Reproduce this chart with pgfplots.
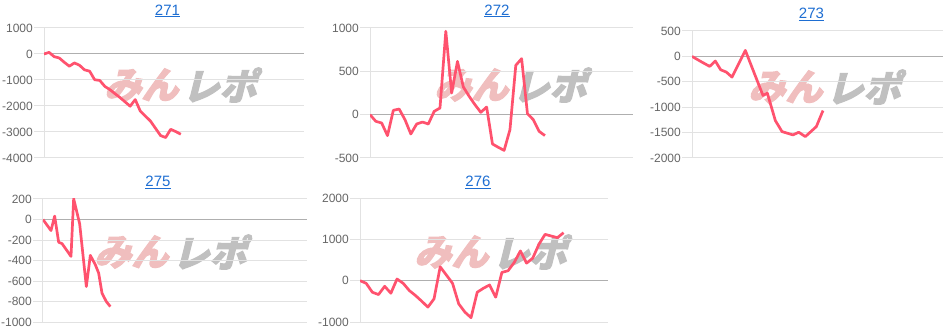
\documentclass[border=0pt]{standalone}
\usepackage{fontspec}
\setmainfont{Liberation Sans}
\newfontfamily\cjk{Noto Sans CJK JP}[FakeBold=3]
\usepackage{pgfplots}
\pgfplotsset{compat=1.18}
\definecolor{linec}{RGB}{255,82,110}
\definecolor{titlec}{RGB}{30,110,210}
\definecolor{tickc}{RGB}{102,102,102}
\definecolor{gridc}{RGB}{226,226,226}
\definecolor{zeroc}{RGB}{175,175,175}
\definecolor{wmpink}{RGB}{240,190,190}
\definecolor{wmgray}{RGB}{192,192,192}
\pgfplotsset{panel/.style={
  scale only axis,
  axis lines*=left,
  x axis line style={draw=none},
  xtick=\empty,
  y axis line style={gridc, line width=1pt},
  ytick style={gridc, line width=1pt},
  major tick length=10pt,
  tick align=outside,
  ymajorgrids,
  grid style={gridc, line width=1pt},
  scaled y ticks=false,
  yticklabel style={font=\fontsize{12}{12}\selectfont, text=tickc, inner sep=1pt},
  xmin=0,
}}
\tikzset{dl/.style={linec, line width=2.7pt, line join=round, mark=none},
  wm/.style={font=\cjk\fontsize{37}{37}\selectfont\bfseries, inner sep=0pt, xslant=0.25},
  ttl/.style={font=\fontsize{15}{15}\selectfont, text=titlec}}
\newcommand{\zeroline}{\draw[zeroc, line width=1pt] ({rel axis cs:0,0}|-{axis cs:0,0}) -- ({rel axis cs:1,0}|-{axis cs:0,0});}
\newcommand{\wmark}[2]{\node[wm, anchor=east, text=wmpink] at (#1pt-2pt,#2pt) {みん};\node[wm, anchor=west, text=wmgray] at (#1pt+2pt,#2pt) {レポ};}
\begin{document}
\begin{tikzpicture}
\useasboundingbox (0pt,0pt) rectangle (952pt,332pt);
% watermarks
\wmark{184}{247}
\wmark{514}{247}
\wmark{828}{245}
\wmark{174}{80}
\wmark{494}{80}
% titles
\node[ttl] at (167.5pt,321pt) {\underline{271}};
\node[ttl] at (497pt,321pt) {\underline{272}};
\node[ttl] at (811.5pt,318pt) {\underline{273}};
\node[ttl] at (158pt,150pt) {\underline{275}};
\node[ttl] at (478pt,150pt) {\underline{276}};
% 271
\begin{axis}[panel, at={(44pt,174pt)}, anchor=south west, width=260pt, height=130pt,
  xmax=51.3, ymin=-4000, ymax=1000, ytick={-4000,-3000,-2000,-1000,0,1000},
  yticklabels={-4000,-3000,-2000,-1000,0,1000}]
\zeroline
\addplot[dl] coordinates {(0,0)(1,64)(2,-102)(3,-152)(4,-318)(5,-470)(6,-343)(7,-432)(8,-610)(9,-660)(10,-990)(11,-1016)(12,-1245)(13,-1372)(14,-1524)(15,-1676)(16,-1842)(17,-2007)(18,-1753)(19,-2197)(20,-2388)(21,-2578)(22,-2858)(23,-3137)(24,-3213)(25,-2896)(26,-2985)(27,-3086)};
\end{axis}
% 272
\begin{axis}[panel, at={(370pt,174pt)}, anchor=south west, width=263pt, height=130pt,
  xmax=45.1, ymin=-500, ymax=1000, ytick={-500,0,500,1000},
  yticklabels={-500,0,500,1000}]
\zeroline
\addplot[dl] coordinates {(0,0)(1,-77)(2,-96)(3,-242)(4,50)(5,65)(6,-58)(7,-223)(8,-108)(9,-85)(10,-108)(11,38)(12,77)(13,962)(14,250)(15,615)(16,320)(17,212)(18,115)(19,27)(20,88)(21,-338)(22,-377)(23,-412)(24,-173)(25,569)(26,646)(27,12)(28,-58)(29,-192)(30,-242)};
\end{axis}
% 273
\begin{axis}[panel, at={(692pt,174pt)}, anchor=south west, width=251pt, height=127pt,
  xmax=753, ymin=-2000, ymax=500, ytick={-2000,-1500,-1000,-500,0,500},
  yticklabels={-2000,-1500,-1000,-500,0,500}]
\zeroline
\addplot[dl] coordinates {(0,0)(26,-99)(53,-197)(70,-92)(86,-263)(103,-309)(120,-408)(160,118)(213,-770)(226,-724)(250,-1263)(270,-1480)(303,-1546)(320,-1493)(340,-1579)(373,-1382)(393,-1066)};
\end{axis}
% 275
\begin{axis}[panel, at={(43pt,10pt)}, anchor=south west, width=264pt, height=123pt,
  xmax=792, ymin=-1000, ymax=200, ytick={-1000,-800,-600,-400,-200,0,200},
  yticklabels={-1000,-800,-600,-400,-200,0,200}]
\zeroline
\addplot[dl] coordinates {(0,0)(24,-108)(35,33)(47,-222)(57,-235)(72,-304)(84,-360)(92,203)(110,-42)(130,-654)(142,-350)(157,-441)(167,-523)(177,-719)(190,-801)(202,-850)};
\end{axis}
% 276
\begin{axis}[panel, at={(360pt,10pt)}, anchor=south west, width=248pt, height=124pt,
  xmax=40.2, ymin=-1000, ymax=2000, ytick={-1000,0,1000,2000},
  yticklabels={-1000,0,1000,2000}]
\zeroline
\addplot[dl] coordinates {(0,0)(1,-64)(2,-280)(3,-336)(4,-136)(5,-304)(6,40)(7,-64)(8,-240)(9,-360)(10,-496)(11,-640)(12,-440)(13,336)(14,136)(15,-64)(16,-560)(17,-760)(18,-896)(19,-280)(20,-184)(21,-104)(22,-400)(23,200)(24,240)(25,440)(26,720)(27,424)(28,544)(29,880)(30,1120)(31,1080)(32,1040)(33,1160)};
\end{axis}
\end{tikzpicture}
\end{document}
